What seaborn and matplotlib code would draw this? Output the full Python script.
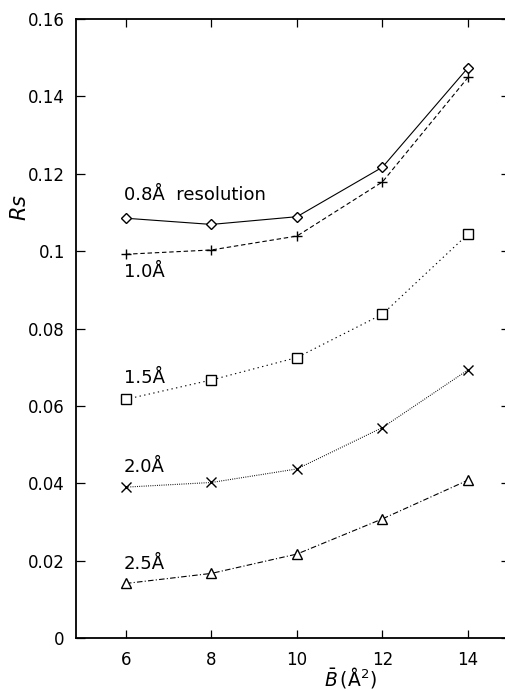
import matplotlib
matplotlib.use("Agg")
import matplotlib.pyplot as plt
import seaborn as sns
import pandas as pd

sns.set_style("ticks")
plt.rcParams['font.family'] = ['DejaVu Sans']
plt.rcParams['mathtext.fontset'] = 'dejavusans'
for key in ['text.color', 'axes.labelcolor', 'xtick.color', 'ytick.color', 'axes.edgecolor']:
    plt.rcParams[key] = 'black'

b_values = [6, 8, 10, 12, 14]
rs_08 = [0.1085, 0.1069, 0.1089, 0.1217, 0.1474]
rs_10 = [0.0992, 0.1003, 0.1039, 0.1179, 0.1449]
rs_15 = [0.0617, 0.0667, 0.0725, 0.0837, 0.1044]
rs_20 = [0.0390, 0.0402, 0.0437, 0.0544, 0.0693]
rs_25 = [0.0141, 0.0167, 0.0217, 0.0308, 0.0408]
series_labels = ["0.8Å  resolution", "1.0Å", "1.5Å", "2.0Å", "2.5Å"]
label_x = [5.95, 5.95, 5.95, 5.95, 5.95]
label_y = [0.1145, 0.0946, 0.0672, 0.0442, 0.0191]
y_ticks = [0, 0.02, 0.04, 0.06, 0.08, 0.1, 0.12, 0.14, 0.16]
y_tick_labels = ["0", "0.02", "0.04", "0.06", "0.08", "0.1", "0.12", "0.14", "0.16"]

fig = plt.figure(figsize=(5.06, 6.91), dpi=100)
ax = fig.add_axes([0.150, 0.0767, 0.8577, 0.8958])

styles = [
    dict(marker='D', linestyle='-', markersize=5),
    dict(marker='+', linestyle=(0, (4, 2.5)), markersize=7.5),
    dict(marker='s', linestyle=(0, (1.2, 3)), markersize=6.5),
    dict(marker='x', linestyle=(0, (0.8, 1.2)), markersize=6.5),
    dict(marker='^', linestyle=(0, (5, 2, 1, 2)), markersize=6.5),
]
all_series = [rs_08, rs_10, rs_15, rs_20, rs_25]
for vals, st in zip(all_series, styles):
    df = pd.DataFrame({"B": b_values, "Rs": vals})
    sns.lineplot(data=df, x="B", y="Rs", ax=ax, color='black', linewidth=0.8,
                 markerfacecolor='white', markeredgecolor='black',
                 markeredgewidth=1.0, **st)
# centre dots of squares
sns.scatterplot(x=b_values, y=rs_15, ax=ax, color='black', s=1.5, linewidth=0)

for lab, lx, ly in zip(series_labels, label_x, label_y):
    ax.text(lx, ly, lab, fontsize=13, ha='left', va='center', color='black')

ax.set_xlim(4.83, 14.98)
ax.set_ylim(0, 0.16)
ax.set_xticks(b_values)
ax.set_xticklabels([str(v) for v in b_values])
ax.set_yticks(y_ticks)
ax.set_yticklabels(y_tick_labels)
ax.tick_params(axis='x', direction='in', length=5.5, width=0.9, top=True,
               labelsize=12, pad=9)
ax.tick_params(axis='y', direction='in', length=6.5, width=0.9, right=True,
               labelsize=12, pad=8)
for sp in ax.spines.values():
    sp.set_linewidth(1.3)
    sp.set_visible(True)
ax.spines['right'].set_visible(False)

ax.set_ylabel("$\\it{Rs}$", fontsize=15)
ax.yaxis.set_label_coords(-0.105, 0.696)
ax.set_xlabel("$\\bar{B}\\,$(Å$^2$)", fontsize=13.5)
ax.xaxis.set_label_coords(0.632, -0.044)
ax.xaxis.label.set_va('top')

fig.savefig("out.png", dpi=100)
